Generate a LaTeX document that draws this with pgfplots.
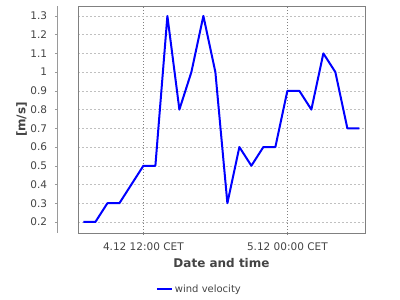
\documentclass[border=0pt]{standalone}
\usepackage{pgfplots}
\pgfplotsset{compat=1.18}
\usepackage{fontspec}
\setmainfont{DejaVu Sans}
\definecolor{txt}{HTML}{444444}
\definecolor{frame}{HTML}{808080}
\definecolor{hgrid}{HTML}{C0C0C0}
\definecolor{vgrid}{HTML}{808080}
\begin{document}
\begin{tikzpicture}[x=1pt,y=1pt]
\useasboundingbox (0,0) rectangle (400,300);
\begin{axis}[
  at={(78pt,67pt)}, anchor=south west,
  width=287pt, height=227pt, scale only axis,
  xmin=6.55, xmax=30.47,
  ymin=0.141, ymax=1.353,
  clip=false,
  axis line style={frame, line width=0.8pt},
  /pgf/number format/assume math mode=true,
  xtick={12,24},
  xticklabels={4.12 12:00 CET, 5.12 00:00 CET},
  ytick={0.2,0.3,0.4,0.5,0.6,0.7,0.8,0.9,1.0,1.1,1.2,1.3},
  yticklabels={0.2,0.3,0.4,0.5,0.6,0.7,0.8,0.9,1,1.1,1.2,1.3},
  tick align=outside,
  major tick length=2pt,
  x tick style={frame, line width=0.5pt},
  y tick style={hgrid!80!black, line width=0.5pt, xshift=-21pt},
  xtick pos=bottom, ytick pos=left,
  xticklabel style={font=\fontsize{10.5}{12}\selectfont, text=txt, anchor=base, yshift=-15.3pt, inner sep=0pt},
  yticklabel style={font=\fontsize{10.5}{12}\selectfont, text=txt, anchor=east, xshift=-28.7pt, inner sep=0pt},
  grid=major,
  x grid style={vgrid, dash pattern=on 1pt off 2pt, line width=0.6pt},
  y grid style={hgrid, dash pattern=on 2pt off 2pt, line width=0.5pt},
  xlabel={Date and time},
  xlabel style={font=\fontsize{12}{14}\selectfont\bfseries, text=txt, at={(axis description cs:0.5,0)}, anchor=base, yshift=-34.3pt, inner sep=0pt},
  ylabel={[m/s]},
  ylabel style={font=\fontsize{12}{14}\selectfont\bfseries, text=txt, at={(axis description cs:-0.1969,0.5)}, anchor=center, inner sep=0pt},
  legend style={at={(axis description cs:0.423,-0.247)}, anchor=center, draw=none, fill=none, font=\fontsize{10}{12}\selectfont, text=txt, inner sep=0pt},
  legend image code/.code={\draw[#1] (0pt,0pt) -- (15pt,0pt);},
]
\draw[hgrid!80!black, line width=0.5pt] ([xshift=-21pt]rel axis cs:0,0) -- ([xshift=-21pt]rel axis cs:0,1);
\addplot[blue, line width=2pt, line join=round, mark=none] coordinates {
(7,0.2) (8,0.2) (9,0.3) (10,0.3) (11,0.4) (12,0.5) (13,0.5) (14,1.3)
(15,0.8) (16,1.0) (17,1.3) (18,1.0) (19,0.3) (20,0.6) (21,0.5) (22,0.6)
(23,0.6) (24,0.9) (25,0.9) (26,0.8) (27,1.1) (28,1.0) (29,0.7) (30,0.7)
};
\addlegendentry{wind velocity}
\end{axis}
\end{tikzpicture}
\end{document}
